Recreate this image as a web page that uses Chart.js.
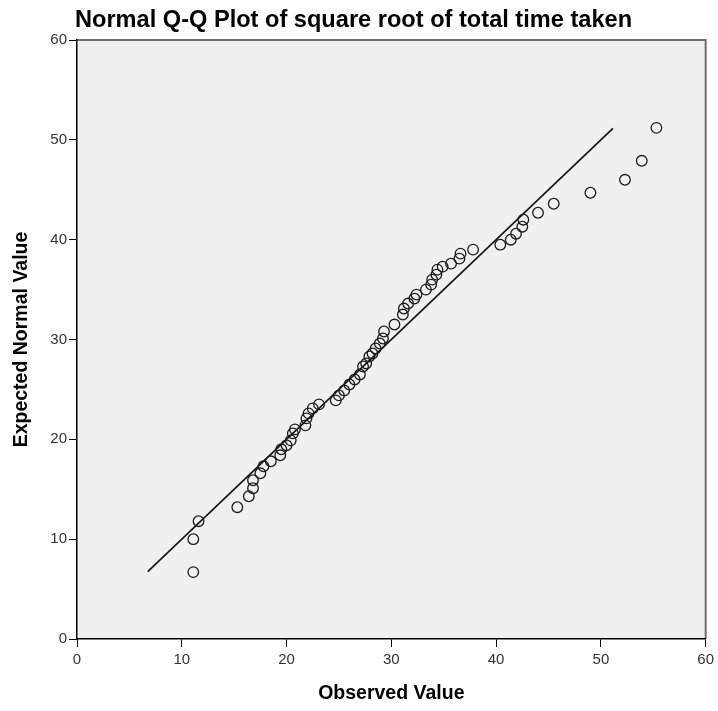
<!DOCTYPE html>
<html>
<head>
<meta charset="utf-8">
<script src="https://cdn.jsdelivr.net/npm/chart.js@4.4.0/dist/chart.umd.min.js"></script>
<style>
  html, body { margin: 0; padding: 0; background: #fff; }
  #wrap { width: 718px; height: 711px; }
</style>
</head>
<body>
<div id="wrap"><canvas id="qq"></canvas></div>
<script>
// observed values (square root of total time taken) and expected normal values
var observed = [11.1, 11.1, 11.6, 15.3, 16.4, 16.8, 16.8, 17.5, 17.8, 18.5,
  19.4, 19.5, 20.0, 20.4, 20.6, 20.8, 21.8, 21.9, 22.1, 22.5,
  23.1, 24.7, 25.0, 25.5, 26.0, 26.5, 27.0, 27.3, 27.6, 27.9,
  28.2, 28.5, 28.9, 29.2, 29.3, 30.3, 31.1, 31.2, 31.6, 32.2,
  32.4, 33.3, 33.8, 33.9, 34.3, 34.4, 34.9, 35.7, 36.5, 36.6,
  37.8, 40.4, 41.4, 41.9, 42.5, 42.6, 44.0, 45.5, 49.0, 52.3,
  53.9, 55.3];
var expected = [6.7, 10.0, 11.8, 13.2, 14.3, 15.1, 15.9, 16.6, 17.3, 17.8,
  18.4, 19.0, 19.4, 19.9, 20.6, 21.0, 21.4, 22.1, 22.6, 23.1,
  23.5, 23.9, 24.4, 24.9, 25.5, 26.0, 26.5, 27.3, 27.6, 28.3,
  28.6, 29.1, 29.6, 30.1, 30.8, 31.5, 32.5, 33.1, 33.6, 34.1,
  34.5, 35.0, 35.5, 36.0, 36.5, 37.0, 37.3, 37.6, 38.1, 38.6,
  39.0, 39.5, 40.0, 40.6, 41.3, 42.0, 42.7, 43.6, 44.7, 46.0,
  47.9, 51.2];
// reference line y = x
var lineX = [6.75, 51.15];
var lineY = [6.75, 51.15];

var pts = [];
for (var i in observed) {
  pts.push({x: observed[i], y: expected[i]});
}
var linePts = [];
for (var j in lineX) {
  linePts.push({x: lineX[j], y: lineY[j]});
}

var plotBg = {
  id: 'plotBg',
  beforeDraw: function(chart) {
    var c = chart.ctx, a = chart.chartArea;
    c.save();
    c.fillStyle = '#f0f0f0';
    c.fillRect(a.left, a.top, a.right - a.left, a.bottom - a.top);
    c.strokeStyle = '#6e6e6e';
    c.lineWidth = 2;
    c.beginPath();
    c.moveTo(a.left, a.top);
    c.lineTo(a.right, a.top);
    c.lineTo(a.right, a.bottom);
    c.stroke();
    c.restore();
  }
};

var tickFont = {family: 'Liberation Sans, Arial, sans-serif', size: 15};
var titleFont = {family: 'Liberation Sans, Arial, sans-serif', size: 19.5, weight: 'bold'};

new Chart(document.getElementById('qq'), {
  type: 'scatter',
  data: {
    datasets: [
      {
        label: 'Observed',
        data: pts,
        pointStyle: 'circle',
        pointRadius: 5.3,
        pointBorderWidth: 1.3,
        borderColor: '#1a1a1a',
        backgroundColor: 'rgba(0,0,0,0)',
        order: 1
      },
      {
        label: 'Line',
        type: 'line',
        data: linePts,
        borderColor: '#111',
        borderWidth: 1.6,
        pointRadius: 0,
        fill: false,
        order: 2
      }
    ]
  },
  options: {
    responsive: true,
    maintainAspectRatio: false,
    animation: false,
    layout: {padding: {left: 0, right: 11, top: 0, bottom: 0}},
    plugins: {
      legend: {display: false},
      tooltip: {enabled: false},
      title: {
        display: true,
        text: 'Normal Q-Q Plot of square root of total time taken',
        color: '#000',
        font: {family: 'Liberation Sans, Arial, sans-serif', size: 23.6, weight: 'bold'},
        padding: {top: 6, bottom: 5.7}
      }
    },
    scales: {
      x: {
        type: 'linear',
        min: 0, max: 60,
        ticks: {stepSize: 10, color: '#333', font: tickFont, padding: 4},
        grid: {drawOnChartArea: false, drawTicks: true, tickLength: 8, color: '#000', tickColor: '#000'},
        border: {color: '#000', width: 1.5},
        title: {display: true, text: 'Observed Value', color: '#000', font: titleFont, padding: {top: 12, bottom: 6}},
        afterFit: function(s) { s.height = 72; }
      },
      y: {
        type: 'linear',
        min: 0, max: 60,
        ticks: {stepSize: 10, color: '#333', font: tickFont, padding: 2},
        grid: {drawOnChartArea: false, drawTicks: true, tickLength: 8, color: '#000', tickColor: '#000'},
        border: {color: '#000', width: 1.5},
        title: {display: true, text: 'Expected Normal Value', color: '#000', font: titleFont, padding: {top: 10, bottom: 6}},
        afterFit: function(s) { s.width = 77; }
      }
    }
  },
  plugins: [plotBg]
});
</script>
</body>
</html>
